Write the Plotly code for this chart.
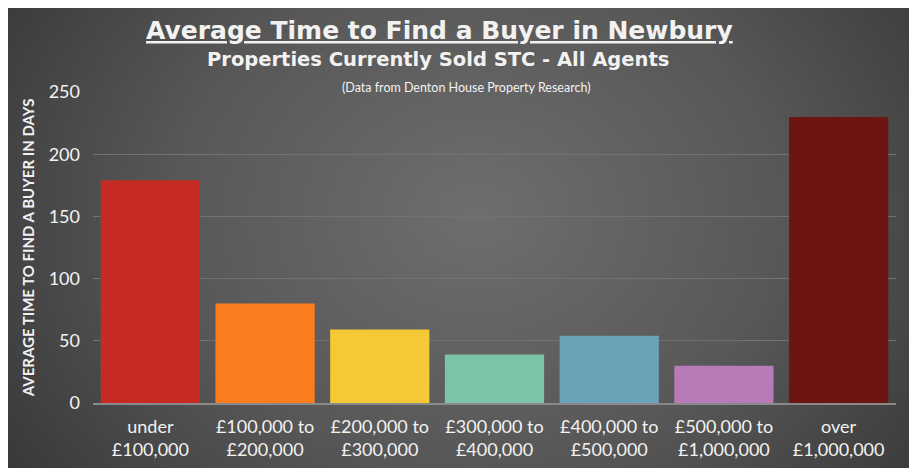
import base64
import plotly.graph_objects as go

categories = ["under<br>£100,000", "£100,000 to<br>£200,000", "£200,000 to<br>£300,000",
              "£300,000 to<br>£400,000", "£400,000 to<br>£500,000", "£500,000 to<br>£1,000,000",
              "over<br>£1,000,000"]
days = [179, 80, 59, 39, 54, 30, 230]
colors = ["#c52b22", "#fb7d1e", "#f5c936", "#7cc4a8", "#6aa2b8", "#b77cb8", "#6e1511"]
y_ticks = [0, 50, 100, 150, 200, 250]

# figure is placed at an 8px page offset (body margin)
W, H = 914, 467
L, R, T, B = 85, 26, 84, 72
pw, ph = W - L - R, H - T - B

svg = """<svg xmlns='http://www.w3.org/2000/svg' width='902' height='460' viewBox='0 0 902 460' preserveAspectRatio='none'>
<defs><radialGradient id='g' cx='0.52' cy='0.45' r='0.62' gradientTransform='translate(0.52,0.45) scale(1,1.6) translate(-0.52,-0.45)'>
<stop offset='0' stop-color='#6e6e6e'/><stop offset='0.55' stop-color='#575757'/><stop offset='1' stop-color='#393939'/></radialGradient></defs>
<rect width='902' height='460' fill='url(#g)'/></svg>"""
src = "data:image/svg+xml;base64," + base64.b64encode(svg.encode()).decode()

fig = go.Figure(go.Bar(x=categories, y=days, marker=dict(color=colors, line=dict(width=0)),
                       width=0.865, hoverinfo="x+y"))

x0, x1, y0, y1 = 0, 901, 0, 460
fig.add_layout_image(dict(source=src, xref="paper", yref="paper",
                          x=(x0 - L) / pw, y=(H - B - y0) / ph,
                          sizex=(x1 - x0) / pw, sizey=(y1 - y0) / ph,
                          xanchor="left", yanchor="top", sizing="stretch", layer="below"))

font = "Lato, 'Noto Sans', sans-serif"
tfont = "'DejaVu Sans', sans-serif"
fig.add_annotation(text="<b><u>Average Time to Find a Buyer in Newbury</u></b>", xref="paper", yref="paper",
                   x=(431 - L) / pw, y=(H - B - 22) / ph, showarrow=False,
                   font=dict(family=tfont, size=25, color="#f2f2f2"), xanchor="center", yanchor="middle")
fig.add_annotation(text="<b>Properties Currently Sold STC - All Agents</b>", xref="paper", yref="paper",
                   x=(430 - L) / pw, y=(H - B - 52) / ph, showarrow=False,
                   font=dict(family=tfont, size=19.5, color="#f2f2f2"), xanchor="center", yanchor="middle")
fig.add_annotation(text="(Data from Denton House Property Research)", xref="paper", yref="paper",
                   x=(458 - L) / pw, y=(H - B - 80) / ph, showarrow=False,
                   font=dict(family=font, size=12.5, color="#f2f2f2"), xanchor="center", yanchor="middle")

fig.update_layout(
    width=W, height=H, margin=dict(l=L, r=R, t=T, b=B),
    paper_bgcolor="white", plot_bgcolor="rgba(0,0,0,0)",
    showlegend=False, bargap=0.135,
    font=dict(family=font, color="#f2f2f2"),
)
fig.update_xaxes(showgrid=False, tickfont=dict(size=18, color="#f2f2f2"), ticks="", ticklabelstandoff=6,
                 showline=True, linecolor="#8a8a8a", linewidth=2, fixedrange=True)
fig.update_yaxes(range=[0, 250], tickvals=y_ticks, showgrid=True, gridcolor="#727272", gridwidth=1,
                 zeroline=False, tickfont=dict(size=18, color="#f2f2f2"), ticks="", ticklabelstandoff=12,
                 title=dict(text="<b>AVERAGE TIME TO FIND A BUYER IN DAYS</b>",
                            font=dict(size=15, color="#f2f2f2"), standoff=10),
                 fixedrange=True)

fig.write_html("out.html")
